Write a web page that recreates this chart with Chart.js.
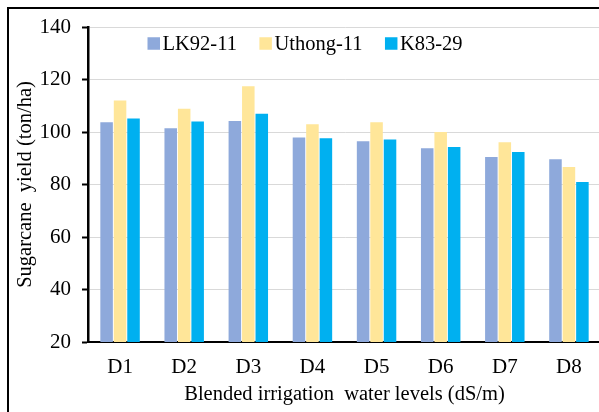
<!DOCTYPE html>
<html>
<head>
<meta charset="utf-8">
<script src="https://cdn.jsdelivr.net/npm/chart.js@4.4.1/dist/chart.umd.min.js"></script>
<style>
  html, body { margin: 0; padding: 0; background: #fff; overflow: hidden; }
  #wrap { width: 599px; height: 412px; overflow: hidden; position: relative; }
  canvas { display: block; }
</style>
</head>
<body>
<div id="wrap"><canvas id="c" width="601" height="412"></canvas></div>
<script>
const categories = ["D1", "D2", "D3", "D4", "D5", "D6", "D7", "D8"];
const lk9211 = [103.7, 101.4, 104.2, 97.9, 96.5, 93.8, 90.5, 89.6];
const uthong11 = [112.0, 108.9, 117.4, 103.0, 103.7, 100.0, 96.1, 86.7];
const k8329 = [105.1, 104.0, 107.0, 97.6, 97.1, 94.3, 92.4, 81.0];
const seriesNames = ["LK92-11", "Uthong-11", "K83-29"];
const yTitle = "Sugarcane  yield (ton/ha)";
const xTitle = "Blended irrigation  water levels (dS/m)";

const FONT = "'Liberation Serif', 'Times New Roman', serif";

const framePlugin = {
  id: 'frame',
  afterDraw(chart) {
    const ctx = chart.ctx;
    ctx.save();
    ctx.strokeStyle = '#000';
    ctx.lineWidth = 2;
    ctx.beginPath();
    ctx.moveTo(8, 430);
    ctx.lineTo(8, 8);
    ctx.lineTo(620, 8);
    ctx.stroke();
    ctx.restore();
  }
};

const legendPlugin = {
  id: 'customLegend',
  afterDraw(chart) {
    const ctx = chart.ctx;
    ctx.save();
    ctx.font = "20.5px " + FONT;
    ctx.textBaseline = 'middle';
    ctx.textAlign = 'left';
    let x = 147.5;
    const y = 43.5;
    chart.data.datasets.forEach(ds => {
      ctx.fillStyle = ds.backgroundColor;
      ctx.fillRect(x, y - 6.25, 12.5, 12.5);
      ctx.fillStyle = '#000';
      ctx.fillText(ds.label, x + 15, y + 1);
      x += 15 + ctx.measureText(ds.label).width + 22.5;
    });
    ctx.restore();
  }
};

new Chart(document.getElementById('c'), {
  type: 'bar',
  data: {
    labels: categories,
    datasets: [
      { label: seriesNames[0], data: lk9211, backgroundColor: '#8EA9DB' },
      { label: seriesNames[1], data: uthong11, backgroundColor: '#FFE699' },
      { label: seriesNames[2], data: k8329, backgroundColor: '#00B0F0' }
    ]
  },
  options: {
    responsive: false,
    animation: false,
    devicePixelRatio: 1,
    layout: { padding: { top: 27, left: 0, right: 0, bottom: 0 } },
    datasets: { bar: { categoryPercentage: 0.63, barPercentage: 0.93 } },
    plugins: { legend: { display: false }, tooltip: { enabled: false } },
    scales: {
      x: {
        grid: { display: false, drawTicks: false },
        border: { color: '#000', width: 2 },
        ticks: { color: '#000', font: { family: FONT, size: 21 }, padding: 13, maxRotation: 0 },
        title: { display: true, text: xTitle, color: '#000', font: { family: FONT, size: 20.5 }, padding: { top: 0, bottom: 5 } },
        afterFit(s) { s.height = 70; }
      },
      y: {
        min: 20, max: 140,
        ticks: { stepSize: 20, color: '#000', font: { family: FONT, size: 21 }, padding: 11 },
        grid: { color: '#d9d9d9', lineWidth: 1, tickLength: 6, tickColor: '#000', tickWidth: 2 },
        border: { color: '#000', width: 2.5 },
        title: { display: true, text: yTitle, color: '#000', font: { family: FONT, size: 20.5 }, padding: { top: 13, bottom: 0 } },
        afterFit(s) { s.width = 88; }
      }
    }
  },
  plugins: [framePlugin, legendPlugin]
});
</script>
</body>
</html>
